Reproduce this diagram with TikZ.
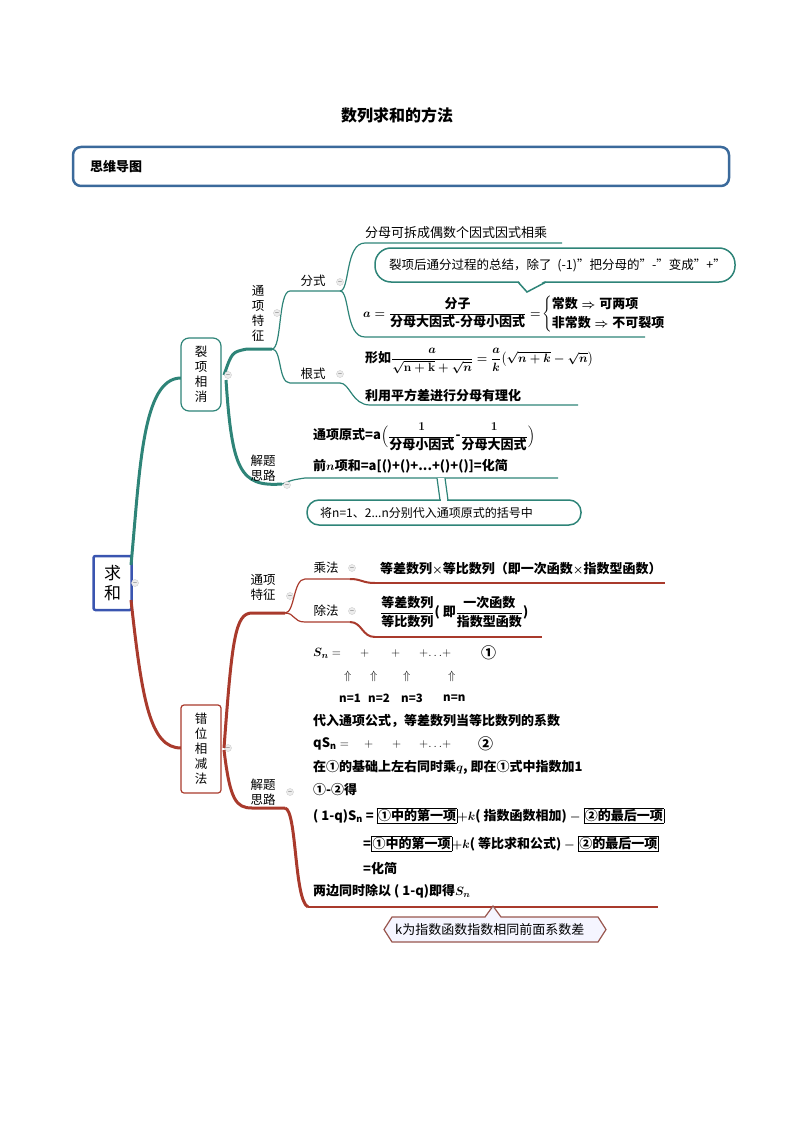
\documentclass[tikz,border=0pt]{standalone}
\usepackage{amsmath}
\usepackage{fontspec}
\setmainfont{Noto Sans CJK SC}
\definecolor{teal1}{HTML}{2E8478}
\definecolor{red1}{HTML}{A93A2C}
\definecolor{hdr}{HTML}{3B6A9B}
\definecolor{rootb}{HTML}{3A55B0}
\begin{document}
\begin{tikzpicture}[x=1pt,y=-1pt,font=\fontsize{13}{15}\selectfont,
  txt/.style={anchor=west,inner sep=0pt},
  btxt/.style={anchor=west,inner sep=0pt,font=\fontsize{13}{15}\selectfont\bfseries\boldmath},
  lbl/.style={inner sep=0pt,align=center,font=\fontsize{12.5}{15}\selectfont},
  knob/.style={circle,draw=black!20,fill=black!7,minimum size=7pt,inner sep=0pt},
  tb/.style={draw=teal1,line width=1.2pt},
  rb/.style={draw=red1,line width=1.2pt}]
\useasboundingbox (0,0) rectangle (794,1123);
% title
\node[font=\fontsize{16}{18}\selectfont\bfseries] (title) at (397,115) {数列求和的方法};
\node[draw=hdr,line width=2.5pt,rounded corners=8pt,minimum width=656pt,minimum height=39pt] (hdrbox) at (401,166.5) {};
\node[btxt] (hdrtxt) at (90,166.5) {思维导图};
% root
\node[draw=rootb,line width=2.5pt,rounded corners=2pt,minimum width=38pt,minimum height=54pt,align=center,font=\fontsize{17}{20}\selectfont,inner sep=1pt] (root) at (112.5,583) {求\\和};
% teal branch
\draw[teal1,line width=3pt] (131,565) .. controls (140,470) and (142,378) .. (181,378);
\node[draw=teal1,line width=1.2pt,rounded corners=8pt,minimum width=40pt,minimum height=73pt,lbl,fill=white] (lx) at (201,374.5) {裂\\项\\相\\消};
\draw[teal1,line width=3pt] (224,375) .. controls (232,352) .. (247,349) -- (272,349);
\draw[tb] (272,349) .. controls (282,349) and (278,291) .. (290,291) -- (340,291);
\draw[tb] (272,349) .. controls (282,349) and (278,383) .. (290,383) -- (340,383);
\draw[tb] (340,291) .. controls (350,291) and (345,243) .. (365,243) -- (562,243);
\draw[tb] (340,291) .. controls (350,291) and (345,337) .. (365,337) -- (645,337);
\draw[tb] (340,383) .. controls (350,383) and (352,405) .. (370,405) -- (578,405);
\draw[teal1,line width=3pt] (226,380) .. controls (232,470) and (240,487) .. (282,484);
\draw[tb] (282,484) .. controls (292,480) .. (305,478) -- (558,478);
\node[lbl] (tx1) at (258,313) {通\\项\\特\\征};
\node[lbl] (fs) at (313,281) {分式};
\node[lbl] (gs) at (313,374) {根式};
\node[lbl] (jt1) at (263,468) {解题\\思路};
\foreach \p/\n in {{228,375}/k1,{277,313}/k2,{340,282}/k3,{340,374}/k4,{287,485}/k5,{135,583}/k6,{228,748}/k7,{290,596}/k8,{352,568}/k9,{352,611}/k10,{290,792}/k11}
  \node[knob] (\n) at (\p) {\tiny$-$};
% teal texts
\node[txt] (t1) at (365,233) {分母可拆成偶数个因式因式相乘};
\draw[teal1,line width=1.5pt,rounded corners=16pt,fill=white] (375,248) rectangle (735,282);
\fill[white] (518,280) -- (527,292) -- (546,280) -- cycle;
\draw[teal1,line width=1.5pt] (518,282) -- (527,292) -- (546,282);
\node[txt,font=\fontsize{12.5}{15}\selectfont] (t2) at (389,265) {裂项后通分过程的总结，除了 \ (-1)"把分母的"-"变成"+"};
\node[btxt] (t3) at (363,314) {$a=\dfrac{\mbox{\bfseries 分子}}{\mbox{\bfseries 分母大因式-分母小因式}}=\!\begin{cases}\mbox{\bfseries 常数}\Rightarrow\mbox{\bfseries 可两项}\\[1pt] \mbox{\bfseries 非常数}\Rightarrow\mbox{\bfseries 不可裂项}\end{cases}$};
\node[btxt] (t4) at (365,361) {形如$\dfrac{a}{\sqrt{\mathbf{n+k}}+\sqrt{n}}=\dfrac{a}{k}\big(\sqrt{n+k}-\sqrt{n}\big)$};
\node[btxt] (t5) at (365,395) {利用平方差进行分母有理化};
\node[btxt] (t6) at (313,437) {通项原式=a$\Big($$\dfrac{\mathbf 1}{\mbox{\bfseries 分母小因式}}$-$\dfrac{\mathbf 1}{\mbox{\bfseries 分母大因式}}$$\Big)$};
\node[btxt] (t7) at (313,466) {前$n$项和=a[()+()+...+()+()]=化简};
\fill[white] (437,478) -- (440,501) -- (448,501) -- (445,478) -- cycle;
\draw[teal1,line width=1.2pt] (437,478) -- (440,500) (445,478) -- (448,500);
\draw[teal1,line width=1.5pt,rounded corners=12pt] (307,500) rectangle (581,525);
\fill[white] (440.7,499) rectangle (447.3,502);
\node[txt,font=\fontsize{12}{14}\selectfont] (t8) at (320,512.5) {将n=1、2...n分别代入通项原式的括号中};
% red branch
\draw[red1,line width=3pt] (131,600) .. controls (142,700) and (150,748) .. (181,748);
\node[draw=red1,line width=1.2pt,rounded corners=3pt,minimum width=40pt,minimum height=88pt,lbl,fill=white] (cw) at (201,749) {错\\位\\相\\减\\法};
\draw[red1,line width=3pt] (224,748) .. controls (232,640) and (235,613) .. (252,613) -- (285,613);
\draw[rb] (285,613) .. controls (295,613) and (293,579) .. (305,579) -- (350,579);
\draw[red1,line width=2pt] (350,579) .. controls (362,579) and (362,583) .. (375,583);
\draw[rb] (375,583) -- (665,583);
\draw[rb] (285,613) .. controls (295,613) and (293,622) .. (305,622) -- (350,622);
\draw[red1,line width=2pt] (350,622) .. controls (362,622) and (362,637) .. (375,637);
\draw[rb] (375,637) -- (542,637);
\draw[red1,line width=3pt] (224,750) .. controls (230,800) and (236,808) .. (252,808) -- (285,808);
\draw[red1,line width=3pt] (285,808) .. controls (297,810) and (294,900) .. (308,907);
\draw[rb] (308,907) -- (658,907);
\node[lbl] (tx2) at (263,587) {通项\\特征};
\node[lbl] (cf) at (326,568) {乘法};
\node[lbl] (chf) at (326,611) {除法};
\node[lbl] (jt2) at (263,792) {解题\\思路};
\node[btxt] (r1) at (380,569) {等差数列$\times$等比数列（即一次函数$\times$指数型函数）};
\node[btxt] (r2) at (380,612) {$\dfrac{\mbox{\bfseries 等差数列}}{\mbox{\bfseries 等比数列}}$( 即$\dfrac{\mbox{\bfseries 一次函数}}{\mbox{\bfseries 指数型函数}}$)};
\node[txt] (s1) at (313,653) {$\boldsymbol{S_n}=$};
\node[txt] (s1a) at (360,653) {$+$};
\node[txt] (s1b) at (391,653) {$+$};
\node[txt] (s1c) at (419,653) {$+\!\dots\!+$};
\node[txt,font=\fontsize{15}{15}\selectfont\bfseries] (s1d) at (481,653) {①};
\foreach \x/\n in {344/u1,370/u2,403/u3,448/u4} \node[txt] (\n) at (\x,676) {$\Uparrow$};
\node[txt,font=\fontsize{11.5}{13}\selectfont\bfseries] (nn1) at (339,698) {n=1};
\node[txt,font=\fontsize{11.5}{13}\selectfont\bfseries] (nn2) at (368,698) {n=2};
\node[txt,font=\fontsize{11.5}{13}\selectfont\bfseries] (nn3) at (401,698) {n=3};
\node[txt,font=\fontsize{11.5}{13}\selectfont\bfseries] (nn4) at (443,698) {n=n};
\node[btxt] (r3) at (313,721) {代入通项公式，等差数列当等比数列的系数};
\node[txt] (s2) at (313,744) {$\mathbf{qS_n}=$};
\node[txt] (s2a) at (364,744) {$+$};
\node[txt] (s2b) at (392,744) {$+$};
\node[txt] (s2c) at (419,744) {$+\!\dots\!+$};
\node[txt,font=\fontsize{15}{15}\selectfont\bfseries] (s2d) at (478,744) {②};
\node[btxt] (r4) at (313,767) {在①的基础上左右同时乘$q$, 即在①式中指数加1};
\node[btxt] (r5) at (313,790) {①-②得};
\setlength{\fboxsep}{1pt}
\node[btxt] (r6) at (313,816) {( 1-q)S$_\mathrm{n}$ = \fbox{①中的第一项}$+k$( 指数函数相加) $-$ \fbox{②的最后一项}};
\node[btxt] (r7) at (363,844) {=\fbox{①中的第一项}$+k$( 等比求和公式) $-$ \fbox{②的最后一项}};
\node[btxt] (r8) at (363,868) {=化简};
\node[btxt] (r9) at (313,891) {两边同时除以 ( 1-q)即得$S_n$};
\draw[red1!60!gray,line width=1.2pt,fill=blue!4] (392,917) -- (485,917) -- (493,906) -- (501,917) -- (598,917) -- (606,929.5) -- (598,942) -- (392,942) -- (384,929.5) -- cycle;
\node[txt,font=\fontsize{13}{15}\selectfont] (r10) at (395,929.5) {k为指数函数指数相同前面系数差};
\end{tikzpicture}
\end{document}
